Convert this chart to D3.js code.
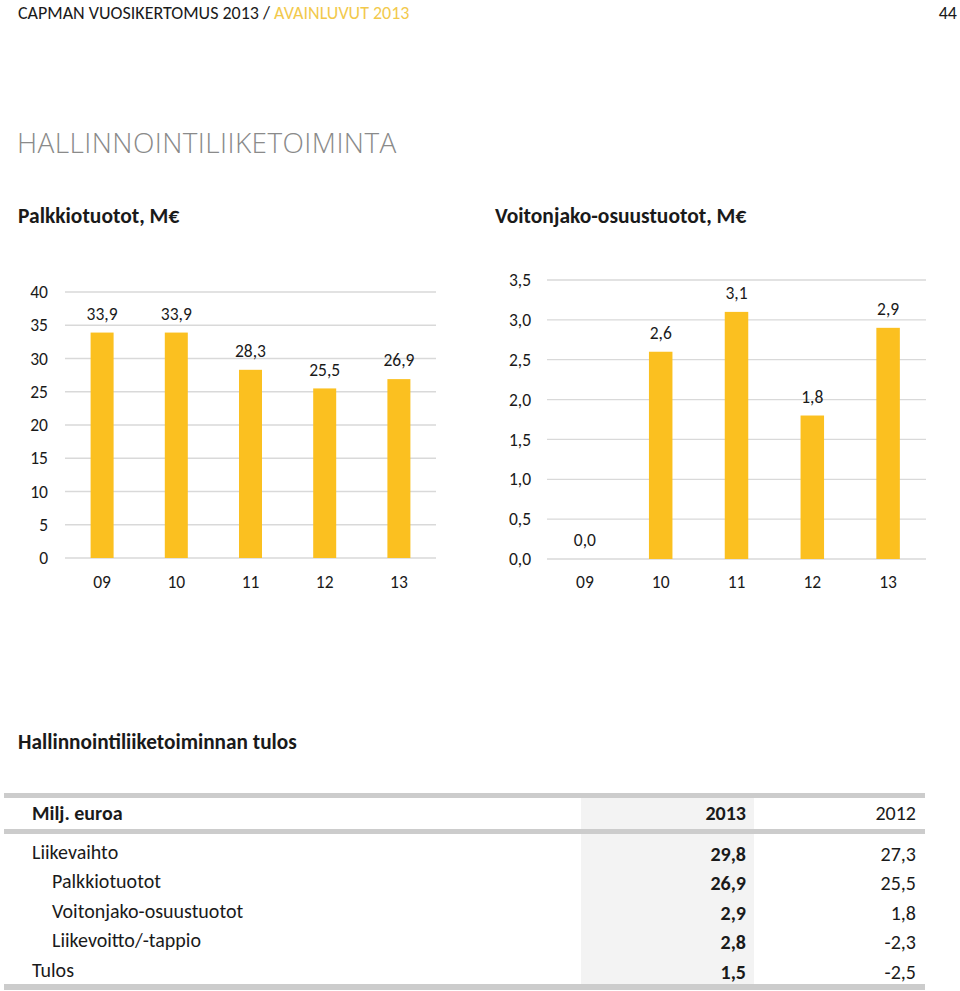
<!DOCTYPE html>
<html><head><meta charset="utf-8">
<script src="https://cdn.jsdelivr.net/npm/d3@7"></script>
<style>
html,body{margin:0;padding:0;background:#fff;}
</style></head>
<body><svg id="c" width="960" height="991" style="font-family:Carlito, Lato, 'Open Sans', sans-serif"></svg>
<script>
// ---- data ----
const years = ["09","10","11","12","13"];
const palkkioValues = [33.9, 33.9, 28.3, 25.5, 26.9];
const palkkioTicks = [0,5,10,15,20,25,30,35,40];
const voitonjakoValues = [0.0, 2.6, 3.1, 1.8, 2.9];
const voitonjakoTicks = [0,0.5,1,1.5,2,2.5,3,3.5];
const tableColumns = ["Milj. euroa","2013","2012"];
const tableRows = ["Liikevaihto","Palkkiotuotot","Voitonjako-osuustuotot","Liikevoitto/-tappio","Tulos"];
const tableIndent = [false,true,true,true,false];
const values2013 = [29.8, 26.9, 2.9, 2.8, 1.5];
const values2012 = [27.3, 25.5, 1.8, -2.3, -2.5];

// ---- setup ----
const fi = d3.formatLocale({decimal:",",thousands:" ",grouping:[3],currency:["","€"],minus:"-"});
const f1 = fi.format(".1f");
const f0 = fi.format("d");
const svg = d3.select("#c");
const BAR = "#FBC020", GRID = "#d9d9d9", TXT = "#1a1a1a";
const CF = 17.5; // chart font size

// header
const h = svg.append("text").attr("x",18).attr("y",19).attr("font-size",18).attr("fill",TXT);
h.append("tspan").text("CAPMAN VUOSIKERTOMUS 2013 / ");
h.append("tspan").attr("fill","#F2C94C").text("AVAINLUVUT 2013");
svg.append("text").attr("x",957).attr("y",19).attr("text-anchor","end").attr("font-size",18).attr("fill",TXT).text("44");

svg.append("text").attr("x",17).attr("y",153).attr("font-size",28).attr("font-weight",300)
  .attr("letter-spacing",0.4)
  .style("font-family","'Open Sans', Lato, sans-serif")
  .attr("fill","#8a8a8a").text("HALLINNOINTILIIKETOIMINTA");
svg.append("text").attr("x",18).attr("y",223).attr("font-size",21.5).attr("font-weight",700)
  .attr("fill",TXT).text("Palkkiotuotot, M€");
svg.append("text").attr("x",495).attr("y",223).attr("font-size",21.5).attr("font-weight",700)
  .attr("fill",TXT).text("Voitonjako-osuustuotot, M€");

function barChart(cfg){
  const g = svg.append("g");
  const y = d3.scaleLinear().domain(cfg.domain).range([cfg.y0, cfg.y1]);
  const x = d3.scaleBand().domain(years).range([cfg.x0, cfg.x1]).paddingInner(0.69).paddingOuter(0.345);
  // grid
  g.selectAll("line.grid").data(cfg.ticks).join("line")
    .attr("x1",cfg.x0).attr("x2",cfg.x1)
    .attr("y1",d=>y(d)).attr("y2",d=>y(d))
    .attr("stroke",GRID).attr("stroke-width",1.3);
  // y axis labels via d3 axis
  const ya = d3.axisLeft(y).tickValues(cfg.ticks).tickSize(0).tickPadding(0).tickFormat(cfg.fmt);
  const yg = g.append("g").attr("transform",`translate(${cfg.labelX},0)`).call(ya);
  yg.select(".domain").remove();
  yg.attr("font-family",null).attr("font-size",null);
  yg.selectAll("text").attr("font-size",CF).attr("fill",TXT);
  // x axis
  const xa = d3.axisBottom(x).tickSize(0).tickPadding(0);
  const xg = g.append("g").attr("transform",`translate(0,${cfg.xLabelY})`).call(xa);
  xg.select(".domain").remove();
  xg.attr("font-family",null).attr("font-size",null);
  xg.selectAll("text").attr("font-size",CF).attr("fill",TXT).attr("dy","0.35em").attr("y",0);
  // bars
  g.selectAll("rect.bar").data(cfg.values).join("rect")
    .attr("x",(d,i)=>x(years[i])).attr("width",x.bandwidth())
    .attr("y",d=>y(d)).attr("height",d=>y(0)-y(d)).attr("fill",BAR);
  // data labels
  g.selectAll("text.lbl").data(cfg.values).join("text")
    .attr("x",(d,i)=>x(years[i])+x.bandwidth()/2).attr("y",d=>y(d)-19).attr("dy","0.35em")
    .attr("text-anchor","middle").attr("font-size",CF).attr("fill",TXT).text(d=>f1(d));
}

barChart({domain:[0,40], ticks:palkkioTicks, fmt:f0, y0:558, y1:292, x0:65, x1:436, labelX:48, xLabelY:582, values:palkkioValues});
barChart({domain:[0,3.5], ticks:voitonjakoTicks, fmt:f1, y0:559, y1:280, x0:547, x1:926, labelX:531, xLabelY:582, values:voitonjakoValues});

// ---- table ----
const TF = 20;
svg.append("text").attr("x",18).attr("y",749).attr("font-size",21.3).attr("font-weight",700)
  .attr("fill",TXT).text("Hallinnointiliiketoiminnan tulos");
const T = svg.append("g");
const shadeX0 = 581, shadeX1 = 754;
T.append("rect").attr("x",shadeX0).attr("y",798).attr("width",shadeX1-shadeX0).attr("height",186).attr("fill","#f3f3f3");
T.append("rect").attr("x",4).attr("y",793).attr("width",921).attr("height",5).attr("fill","#cccccc");
T.append("rect").attr("x",4).attr("y",829).attr("width",921).attr("height",5).attr("fill","#cccccc");
T.append("rect").attr("x",4).attr("y",984).attr("width",921).attr("height",6).attr("fill","#cccccc");
// header
T.append("text").attr("x",32).attr("y",820).attr("font-size",TF).attr("font-weight",700).attr("fill",TXT).text(tableColumns[0]);
T.append("text").attr("x",746).attr("y",820).attr("text-anchor","end").attr("font-size",TF).attr("font-weight",700).attr("fill",TXT).text(tableColumns[1]);
T.append("text").attr("x",916).attr("y",820).attr("text-anchor","end").attr("font-size",TF).attr("fill",TXT).text(tableColumns[2]);
const rowY = d3.scalePoint().domain(tableRows).range([851.5,970]);
T.selectAll("text.rl").data(tableRows).join("text")
  .attr("x",(d,i)=>tableIndent[i]?52:32).attr("y",d=>rowY(d)).attr("dy","0.35em")
  .attr("font-size",TF).attr("fill",TXT).text(d=>d);
T.selectAll("text.v13").data(values2013).join("text")
  .attr("x",746).attr("y",(d,i)=>rowY(tableRows[i])+2).attr("dy","0.35em").attr("text-anchor","end")
  .attr("font-size",TF).attr("font-weight",700).attr("fill",TXT).text(d=>f1(d));
T.selectAll("text.v12").data(values2012).join("text")
  .attr("x",916).attr("y",(d,i)=>rowY(tableRows[i])+2).attr("dy","0.35em").attr("text-anchor","end")
  .attr("font-size",TF).attr("fill",TXT).text(d=>f1(d));
</script></body></html>
